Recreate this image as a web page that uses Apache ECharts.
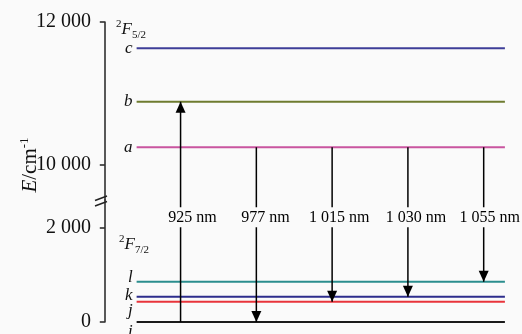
<!DOCTYPE html>
<html><head><meta charset="utf-8">
<script src="https://cdn.jsdelivr.net/npm/echarts@6/dist/echarts.min.js"></script>
<style>html,body{margin:0;padding:0;background:#fafafa}#c{width:522px;height:334px}</style>
</head><body><div id="c"></div>
<script>
// ---- data ----
const upperLevels = ['a', 'b', 'c'];
const upperEnergies = [10240, 10880, 11630];
const lowerLevels = ['i', 'j', 'k', 'l'];
const lowerEnergies = [0, 430, 540, 860];
const transitionLabels = ['925 nm', '977 nm', '1 015 nm', '1 030 nm', '1 055 nm'];
const transitionFrom = ['i', 'a', 'a', 'a', 'a'];
const transitionTo = ['b', 'i', 'j', 'k', 'l'];
const upperTicks = [10000, 12000];
const lowerTicks = [0, 2000];
const upperTerm = { sup: '2', main: 'F', sub: '5/2' };
const lowerTerm = { sup: '2', main: 'F', sub: '7/2' };
const axisTitle = { main: 'E', unit: '/cm', sup: '-1' };

// ---- layout / style ----
const SERIF = '"Liberation Serif", "Times New Roman", serif';
const UMIN = 9500, UMAX = 12000, LMIN = 0, LMAX = 2600;
const X0 = 0.42, X1 = 5.28;
const levelColors = { a: '#c9559f', b: '#6e7b2f', c: '#3e3e98', i: '#1a1a1a', j: '#e8343b', k: '#2d2d8c', l: '#2b8e8e' };
const labelNudge = { a: 0, b: 0, c: 0, i: 10, j: 9, k: -1, l: -4 };
const wlShift = [12, 9, 7, 8, 6];
const WL_Y = 2230;

function lookup(name) {
  let idx = upperLevels.indexOf(name);
  if (idx >= 0) return { g: 0, E: upperEnergies[idx] };
  idx = lowerLevels.indexOf(name);
  return { g: 1, E: lowerEnergies[idx] };
}
const fmt = v => String(v).replace(/\B(?=(\d{3})+(?!\d))/g, ' ');

const series = [];
[[upperLevels, upperEnergies, 0], [lowerLevels, lowerEnergies, 1]].forEach(([names, vals, g]) => {
  names.forEach((n, i) => {
    series.push({ type: 'line', xAxisIndex: g, yAxisIndex: g, data: [[X0, vals[i]], [X1, vals[i]]],
      symbol: 'none', lineStyle: { color: levelColors[n], width: 2 }, z: 2, silent: true });
  });
  series.push({ type: 'scatter', xAxisIndex: g, yAxisIndex: g, symbolSize: 0, z: 3, silent: true,
    itemStyle: { opacity: 1 },
    data: names.map((n, i) => ({ value: [X0, vals[i]], name: n, label: { offset: [0, labelNudge[n]] } })),
    label: { show: true, position: 'left', distance: 4, formatter: '{b}', fontFamily: SERIF,
      fontStyle: 'italic', fontSize: 17, color: '#111' } });
});

const wlData = [];
transitionLabels.forEach((lab, k) => {
  const x = k + 1;
  const from = lookup(transitionFrom[k]), to = lookup(transitionTo[k]);
  const up = to.E > from.E;
  const upE = from.g === 0 ? from.E : to.E;
  const loE = from.g === 1 ? from.E : to.E;
  const ls = { color: '#000', width: 1.5 };
  series.push({ type: 'line', xAxisIndex: 0, yAxisIndex: 0, data: [[x, UMIN], [x, upE]], symbol: 'none', lineStyle: ls, z: 5, silent: true });
  series.push({ type: 'line', xAxisIndex: 1, yAxisIndex: 1, data: [[x, loE], [x, LMAX]], symbol: 'none', lineStyle: ls, z: 5, silent: true });
  series.push({ type: 'scatter', xAxisIndex: to.g, yAxisIndex: to.g, data: [[x, to.E]], symbol: 'triangle',
    symbolSize: [10, 11], symbolRotate: up ? 0 : 180, symbolOffset: [0, up ? 5.5 : -5.5],
    itemStyle: { color: '#000', opacity: 1 }, z: 6, silent: true });
  wlData.push({ value: [x, WL_Y], name: lab, label: { offset: [wlShift[k], 0] } });
});
series.push({ type: 'scatter', xAxisIndex: 1, yAxisIndex: 1, symbolSize: 0, z: 8, silent: true, data: wlData,
  itemStyle: { opacity: 1 },
  label: { show: true, position: 'inside', formatter: '{b}', fontFamily: SERIF, fontSize: 16, color: '#000',
    backgroundColor: '#fafafa', padding: [2, 1] } });

const yAxisBase = (min, max, ticks, g) => ({
  gridIndex: g, type: 'value', min, max,
  axisLine: { show: true, lineStyle: { color: '#222', width: 1.5 } },
  axisTick: { show: true, customValues: ticks, length: 5, lineStyle: { color: '#222', width: 1.5 } },
  axisLabel: { customValues: ticks, formatter: fmt, fontFamily: SERIF, fontSize: 20, color: '#111', margin: 10 },
  splitLine: { show: false }
});

const option = {
  backgroundColor: '#fafafa',
  animation: false,
  grid: [
    { left: 101, right: 8, top: 22, height: 178 },
    { left: 101, right: 8, top: 200, height: 122 }
  ],
  xAxis: [
    { gridIndex: 0, type: 'value', min: -0.05, max: 5.4, show: false },
    { gridIndex: 1, type: 'value', min: -0.05, max: 5.4, show: false }
  ],
  yAxis: [yAxisBase(UMIN, UMAX, upperTicks, 0), yAxisBase(LMIN, LMAX, lowerTicks, 1)],
  series,
  graphic: [
    { type: 'line', shape: { x1: 95, y1: 200.5, x2: 107, y2: 196 }, style: { stroke: '#222', lineWidth: 1.5 }, z: 100 },
    { type: 'line', shape: { x1: 95, y1: 206, x2: 107, y2: 201.5 }, style: { stroke: '#222', lineWidth: 1.5 }, z: 100 },
    { type: 'text', x: 30, y: 165, rotation: Math.PI / 2, z: 100,
      style: { text: '{e|' + axisTitle.main + '}{n|' + axisTitle.unit + '}{s|' + axisTitle.sup + '}', align: 'center', verticalAlign: 'middle',
        rich: { e: { fontFamily: SERIF, fontStyle: 'italic', fontSize: 21, lineHeight: 24, fill: '#111' },
                n: { fontFamily: SERIF, fontSize: 21, lineHeight: 24, fill: '#111' },
                s: { fontFamily: SERIF, fontSize: 13, lineHeight: 13, verticalAlign: 'top', fill: '#111' } } } },
    { type: 'text', x: 116, y: 30, z: 100,
      style: { text: '{s|' + upperTerm.sup + '}{f|' + upperTerm.main + '}{b|' + upperTerm.sub + '}', align: 'left', verticalAlign: 'middle',
        rich: { s: { fontFamily: SERIF, fontSize: 11, lineHeight: 11, verticalAlign: 'top', fill: '#111' },
                f: { fontFamily: SERIF, fontStyle: 'italic', fontSize: 17, lineHeight: 22, fill: '#111' },
                b: { fontFamily: SERIF, fontSize: 11, lineHeight: 11, verticalAlign: 'bottom', fill: '#111' } } } },
    { type: 'text', x: 119, y: 245, z: 100,
      style: { text: '{s|' + lowerTerm.sup + '}{f|' + lowerTerm.main + '}{b|' + lowerTerm.sub + '}', align: 'left', verticalAlign: 'middle',
        rich: { s: { fontFamily: SERIF, fontSize: 11, lineHeight: 11, verticalAlign: 'top', fill: '#111' },
                f: { fontFamily: SERIF, fontStyle: 'italic', fontSize: 17, lineHeight: 22, fill: '#111' },
                b: { fontFamily: SERIF, fontSize: 11, lineHeight: 11, verticalAlign: 'bottom', fill: '#111' } } } }
  ]
};
const chart = echarts.init(document.getElementById('c'));
chart.setOption(option);
</script></body></html>
